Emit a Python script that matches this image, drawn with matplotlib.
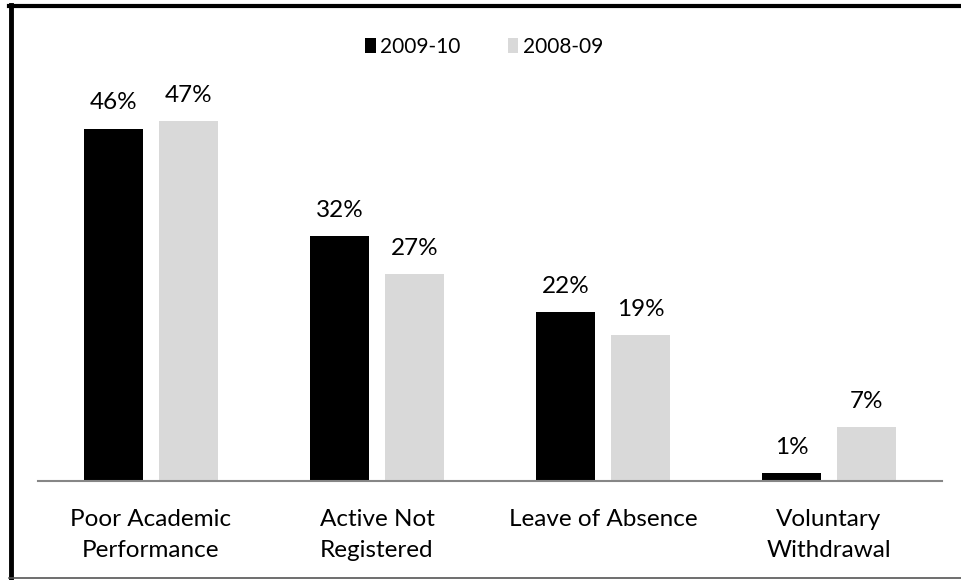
import matplotlib.pyplot as plt
from matplotlib.lines import Line2D
from matplotlib.patches import Patch
import numpy as np

# categories and values
categories = ["Poor Academic\nPerformance", "Active Not\nRegistered",
              "Leave of Absence", "Voluntary\nWithdrawal"]
years = ["2009-10", "2008-09"]
vals_0910 = [46, 32, 22, 1]
vals_0809 = [47, 27, 19, 7]

plt.rcParams['font.family'] = ['Lato', 'DejaVu Sans']

W, H = 961, 580
fig = plt.figure(figsize=(W / 100, H / 100), dpi=100)

# plot area in pixel coordinates (baseline at y=481)
x0, x1 = 38, 942
ytop, ybase = 98, 481
ax = fig.add_axes([x0 / W, (H - ybase) / H, (x1 - x0) / W, (ybase - ytop) / H])

x = np.arange(len(categories))
bw = 0.265
off = 0.166
b1 = ax.bar(x - off, vals_0910, bw, color="black", label=years[0])
b2 = ax.bar(x + off, vals_0809, bw, color="#d9d9d9", label=years[1])

for bars in (b1, b2):
    for b in bars:
        ax.text(b.get_x() + b.get_width() / 2, b.get_height() + 2.0,
                f"{b.get_height():.0f}%", ha="center", va="bottom",
                fontsize=17.5, color="black")

ax.set_xlim(-0.5, len(categories) - 0.5)
ax.set_ylim(0, 50)
ax.set_yticks([])
ax.set_xticks(x)
ax.set_xticklabels(categories, fontsize=17.5, linespacing=1.55)
ax.tick_params(axis="x", length=0, pad=20.5)
for s in ("top", "right", "left"):
    ax.spines[s].set_visible(False)
ax.spines["bottom"].set_color("#868686")
ax.spines["bottom"].set_linewidth(1.5)

# legend on top
handles = [Patch(facecolor="black"), Patch(facecolor="#d9d9d9")]
fig.legend(handles, years, loc="center", bbox_to_anchor=(484 / W, 1 - 47 / H),
           ncol=2, frameon=False, fontsize=15, handlelength=0.5,
           handleheight=0.75, handletextpad=0.2, columnspacing=2.3)

# outer frame (left and top thick, bottom thin)
fig.add_artist(Line2D([10.5 / W, 10.5 / W], [1 - 5 / H, 1 - 578 / H],
                      transform=fig.transFigure, color="black", lw=3.5))
fig.add_artist(Line2D([9 / W, 1.0], [1 - 5.5 / H, 1 - 5.5 / H],
                      transform=fig.transFigure, color="black", lw=3))
fig.add_artist(Line2D([9 / W, 1.0], [1 - 577.5 / H, 1 - 577.5 / H],
                      transform=fig.transFigure, color="#555555", lw=1.2))

fig.savefig("out.png", dpi=100)
